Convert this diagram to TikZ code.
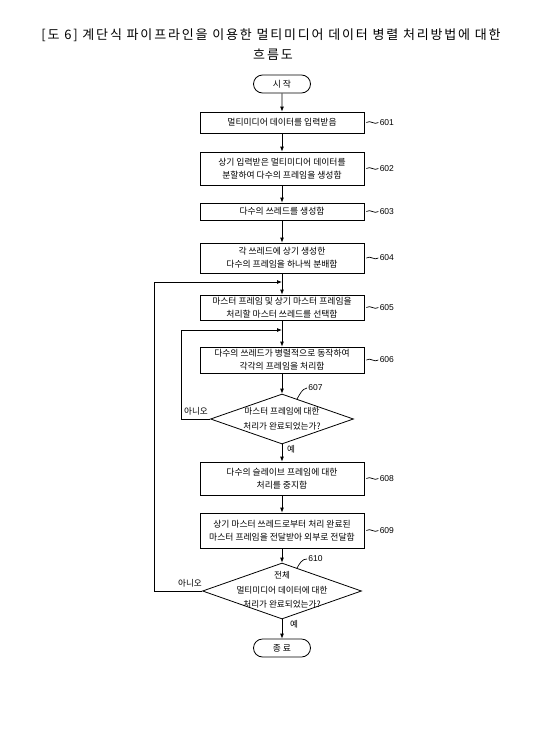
\documentclass[tikz,border=0pt]{standalone}
\usepackage{fontspec}
\setmainfont{Noto Sans CJK KR}
\newfontfamily\numfont{Liberation Sans}
\newfontfamily\titlefont[LetterSpace=14]{Noto Sans CJK KR}
\usetikzlibrary{shapes.geometric,shapes.misc,arrows.meta}
\tikzset{
  line/.style={draw, line width=0.8pt},
  arr/.style={line, -{Latex[length=5pt,width=4pt]}},
  procbox/.style={draw, line width=0.8pt, minimum width=164pt, inner sep=0pt, align=center, font=\fontsize{8.8}{13}\selectfont},
  term/.style={draw, line width=0.8pt, rounded rectangle, minimum width=57pt, minimum height=18pt, inner sep=0pt, font=\fontsize{8.8}{10}\selectfont},
  dia/.style={draw, line width=0.8pt, diamond, inner sep=0pt},
  dtext/.style={align=center, font=\fontsize{8.6}{14.5}\selectfont, inner sep=0pt},
  lbl/.style={font=\numfont\fontsize{8.5}{10}\selectfont, inner sep=1pt},
  small/.style={font=\fontsize{8.6}{10}\selectfont, inner sep=0pt},
  ttl/.style={font=\titlefont\fontsize{13}{15}\selectfont, inner sep=0pt},
}
\newcommand\myleader[2]{%
  \draw[line width=0.7pt] ([xshift=2pt]#1.east) .. controls +(4pt,3pt) and +(-4pt,-3pt) .. ([xshift=14pt]#1.east) node[right, lbl] (l#2) {#2};}
\begin{document}
\begin{tikzpicture}[x=1pt,y=-1pt]
\useasboundingbox (0,0) rectangle (547,731);
\node[ttl] (title) at (271,35) {[도 6] 계단식 파이프라인을 이용한 멀티미디어 데이터 병렬 처리방법에 대한};
\node[ttl] (title2) at (273,55) {흐름도};

\node[term] (start) at (282,84) {시 작};
\node[procbox, minimum height=21pt] (b601) at (282,122.5) {멀티미디어 데이터를 입력받음};
\node[procbox, minimum height=33pt] (b602) at (282,168.5) {상기 입력받은 멀티미디어 데이터를\\분할하여 다수의 프레임을 생성함};
\node[procbox, minimum height=17pt] (b603) at (282,211.5) {다수의 쓰레드를 생성함};
\node[procbox, minimum height=30pt] (b604) at (282,258) {각 쓰레드에 상기 생성한\\다수의 프레임을 하나씩 분배함};
\node[procbox, minimum height=25pt] (b605) at (282,307.5) {마스터 프레임 및 상기 마스터 프레임을\\처리할 마스터 쓰레드를 선택함};
\node[procbox, minimum height=26pt] (b606) at (282,360) {다수의 쓰레드가 병렬적으로 동작하여\\각각의 프레임을 처리함};
\node[dia, minimum width=143pt, minimum height=50pt] (d607) at (282,419) {};
\node[dtext] (t607) at (282,419) {마스터 프레임에 대한\\처리가 완료되었는가?};
\node[procbox, minimum height=33pt] (b608) at (282,478.5) {다수의 슬레이브 프레임에 대한\\처리를 중지함};
\node[procbox, minimum height=35pt] (b609) at (282,530.5) {상기 마스터 쓰레드로부터 처리 완료된\\마스터 프레임을 전달받아 외부로 전달함};
\node[dia, minimum width=159pt, minimum height=56pt] (d610) at (282,591) {};
\node[dtext] (t610) at (282,590) {전체\\멀티미디어 데이터에 대한\\처리가 완료되었는가?};
\node[term] (end) at (282,648) {종 료};

\coordinate (j1) at (282,282);
\coordinate (j2) at (282,330);

\draw[arr] (start) -- (b601);
\draw[arr] (b601) -- (b602);
\draw[arr] (b602) -- (b603);
\draw[arr] (b603) -- (b604);
\draw[arr] (b604) -- (b605);
\draw[arr] (b605) -- (b606);
\draw[arr] (b606) -- (d607);
\draw[arr] (d607) -- (b608);
\draw[arr] (b608) -- (b609);
\draw[arr] (b609) -- (d610);
\draw[arr] (d610) -- (end);
\draw[arr] (d607.west) -- (181,419) -- (181,330) -- (j2);
\draw[arr] (d610.west) -- (154,591) -- (154,282) -- (j1);

\node[small] (no1) at (196,411) {아니오};
\node[small] (no2) at (190,583) {아니오};
\node[small] (yes1) at (291,449) {예};
\node[small] (yes2) at (294,624) {예};

\myleader{b601}{601}
\myleader{b602}{602}
\myleader{b603}{603}
\myleader{b604}{604}
\myleader{b605}{605}
\myleader{b606}{606}
\myleader{b608}{608}
\myleader{b609}{609}
\draw[line width=0.7pt] (297,399) .. controls (300,394) and (302,389) .. (307,388) node[right, lbl] (l607) {607};
\draw[line width=0.7pt] (297,568) .. controls (300,563) and (302,559) .. (307,559) node[right, lbl] (l610) {610};
\end{tikzpicture}
\end{document}
